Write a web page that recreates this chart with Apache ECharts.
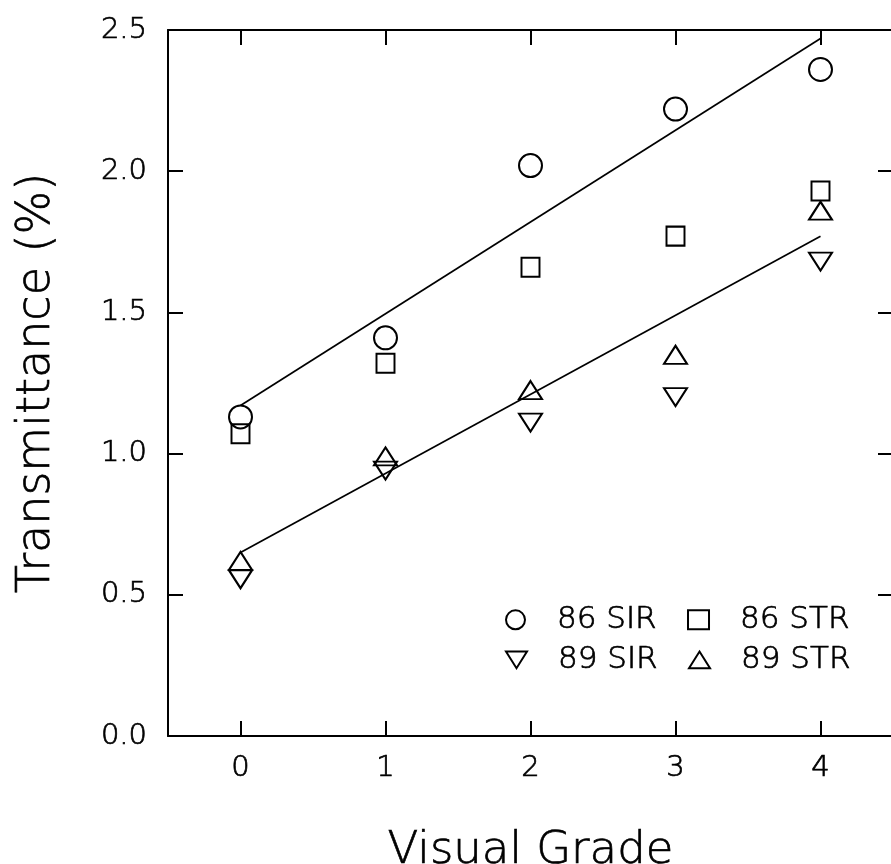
<!DOCTYPE html>
<html>
<head>
<meta charset="utf-8">
<script src="https://cdn.jsdelivr.net/npm/echarts@6/dist/echarts.min.js"></script>
<style>html,body{margin:0;padding:0;background:#fff}#c{width:891px;height:864px}</style>
</head>
<body>
<div id="c"></div>
<script>
var categories = ['0', '1', '2', '3', '4'];
var sir86 = [1.13, 1.41, 2.02, 2.22, 2.36];
var str86 = [1.07, 1.32, 1.66, 1.77, 1.93];
var sir89 = [0.555, 0.94, 1.11, 1.20, 1.68];
var str89 = [0.62, 0.99, 1.225, 1.35, 1.86];
var fitUpper = [[0, 1.17], [4, 2.47]];
var fitLower = [[0, 0.65], [4, 1.77]];
var yTicks = [0, 0.5, 1.0, 1.5, 2.0, 2.5];

var FONT = 'DejaVu Sans';
var WEIGHT = 300;
var black = '#000';
var downTri = 'path://M0,0 L24,0 L12,19 Z';
var upTri = 'path://M12,0 L24,19 L0,19 Z';
var chart = echarts.init(document.getElementById('c'), null, {renderer: 'canvas'});

function txt(size, extra) {
  return Object.assign({fontFamily: FONT, fontWeight: WEIGHT, fontSize: size, color: black,
    textBorderColor: black, textBorderWidth: 0.7}, extra || {});
}
function scatter(name, data, symbol, size) {
  return {
    name: name, type: 'scatter', data: data, symbol: symbol, symbolSize: size,
    symbolKeepAspect: false, xAxisIndex: 0, yAxisIndex: 0, z: 3,
    itemStyle: {color: 'rgba(255,255,255,0)', borderColor: black, borderWidth: 2, opacity: 1}
  };
}
var legendBase = {
  left: 505, orient: 'horizontal', itemGap: 30, itemWidth: 21, itemHeight: 19, padding: 0,
  selectedMode: false,
  itemStyle: {color: 'rgba(255,255,255,0)', borderColor: black, borderWidth: 2, opacity: 1},
  textStyle: txt(31, {padding: [0, 0, 0, 26]})
};
var tickStyle = {color: black, width: 2};
var option = {
  animation: false,
  backgroundColor: '#fff',
  grid: {left: 168, right: -2, top: 30, bottom: 128, containLabel: false, outerBoundsMode: 'none'},
  legend: [
    Object.assign({}, legendBase, {top: 604, data: [
      {name: '86 SIR', icon: 'circle'}, {name: '86 STR', icon: 'rect'}]}),
    Object.assign({}, legendBase, {top: 644, data: [
      {name: '89 SIR', icon: downTri}, {name: '89 STR', icon: upTri}]})
  ],
  xAxis: [{
    type: 'category', data: categories, position: 'bottom', boundaryGap: true,
    name: 'Visual Grade', nameLocation: 'middle', nameGap: 93,
    nameTextStyle: txt(45),
    axisLine: {show: true, onZero: false, lineStyle: tickStyle},
    axisTick: {show: true, inside: true, length: 15, alignWithLabel: true, interval: 0, lineStyle: tickStyle},
    axisLabel: Object.assign({show: true, margin: 18}, txt(29)),
    splitLine: {show: false}
  }, {
    type: 'category', data: categories, position: 'top', boundaryGap: true,
    axisLine: {show: true, onZero: false, lineStyle: tickStyle},
    axisTick: {show: true, inside: true, length: 15, alignWithLabel: true, interval: 0, lineStyle: tickStyle},
    axisLabel: {show: false}, splitLine: {show: false}
  }],
  yAxis: [{
    type: 'value', min: yTicks[0], max: yTicks[yTicks.length - 1], interval: 0.5, position: 'left',
    name: 'Transmittance (%)', nameLocation: 'middle', nameGap: 108,
    nameTextStyle: txt(46),
    axisLine: {show: true, onZero: false, lineStyle: tickStyle},
    axisTick: {show: true, inside: true, length: 15, lineStyle: tickStyle},
    axisLabel: Object.assign({margin: 21, formatter: function (v) { return v.toFixed(1); }}, txt(29)),
    splitLine: {show: false}
  }, {
    type: 'value', min: yTicks[0], max: yTicks[yTicks.length - 1], interval: 0.5, position: 'right',
    axisLine: {show: true, onZero: false, lineStyle: tickStyle},
    axisTick: {show: true, inside: true, length: 15, lineStyle: tickStyle},
    axisLabel: {show: false}, splitLine: {show: false}
  }],
  series: [
    {type: 'line', data: fitUpper, symbol: 'none', lineStyle: {color: black, width: 1.7}, z: 2, silent: true},
    {type: 'line', data: fitLower, symbol: 'none', lineStyle: {color: black, width: 1.7}, z: 2, silent: true},
    scatter('86 SIR', sir86, 'circle', 23),
    scatter('86 STR', str86, 'rect', [18, 19]),
    scatter('89 SIR', sir89, downTri, [23, 18]),
    scatter('89 STR', str89, upTri, [23, 18])
  ]
};
chart.setOption(option);
</script>
</body>
</html>
